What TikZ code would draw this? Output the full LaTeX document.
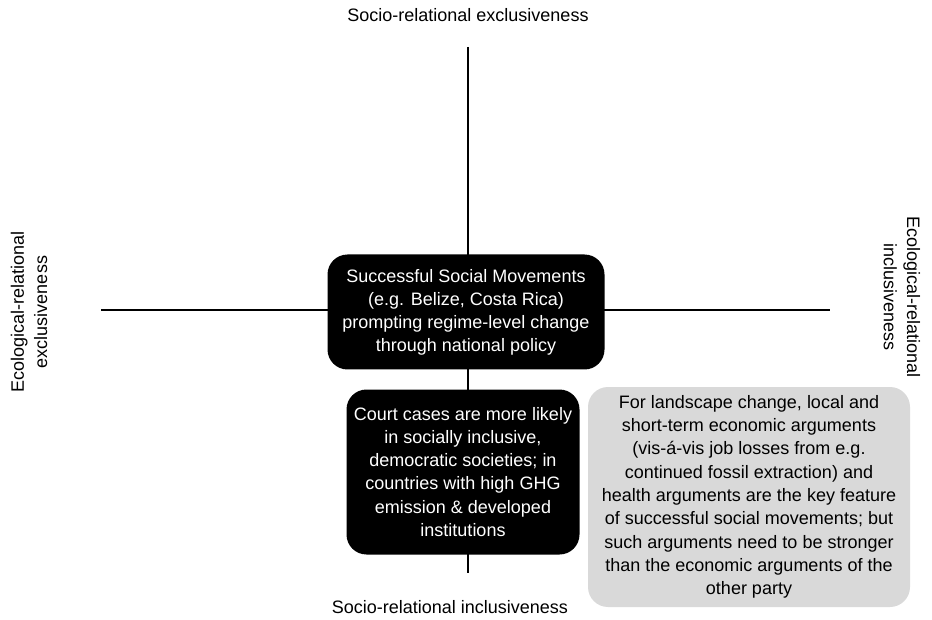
\documentclass[tikz,border=0pt]{standalone}
\usepackage{fontspec}
\setmainfont{Liberation Sans}
\usepackage{tikz}

\begin{document}
\begin{tikzpicture}[x=0.75pt, y=-0.75pt,
  axis/.style = {line width=2pt},
  darkbox/.style = {fill=black, text=white, rounded corners=15pt, align=center,
    inner sep=0pt, font=\fontsize{13.5}{17.3}\selectfont},
  lightbox/.style = {fill=black!15, text=black, rounded corners=15pt, align=center,
    inner sep=0pt, font=\fontsize{13.5}{17.5}\selectfont},
  axislabel/.style = {align=center, font=\fontsize{13.5}{17.5}\selectfont}]
\useasboundingbox (0,0) rectangle (932,620);
% axes
\coordinate (top) at (468,47);
\coordinate (bottom) at (468,573);
\coordinate (left) at (101,310);
\coordinate (right) at (830,310);
\draw[axis] (top) -- (bottom);
\draw[axis] (left) -- (right);
% axis labels
\node[axislabel] (exsoc) at (468,15) {Socio-relational exclusiveness};
\node[axislabel] (insoc) at (450,607) {Socio-relational inclusiveness};
\node[axislabel, rotate=90] (execo) at (29,312) {Ecological-relational\\exclusiveness};
\node[axislabel, rotate=-90] (ineco) at (902,297) {Ecological-relational\\inclusiveness};
% boxes
\node[darkbox, minimum width=277*0.75pt, minimum height=115*0.75pt] (movements) at (466,312)
  {Successful Social Movements\\(e.g. Belize, Costa Rica)\\prompting regime-level change\\through national policy};
\node[darkbox, minimum width=233*0.75pt, minimum height=165*0.75pt] (courts) at (463,472)
  {Court cases are more likely\\in socially inclusive,\\democratic societies; in\\countries with high GHG\\emission \& developed\\institutions};
\node[lightbox, minimum width=322*0.75pt, minimum height=220*0.75pt] (landscape) at (749,497)
  {For landscape change, local and\\short-term economic arguments\\(vis-á-vis job losses from e.g.\\continued fossil extraction) and\\health arguments are the key feature\\of successful social movements; but\\such arguments need to be stronger\\than the economic arguments of the\\other party};
\end{tikzpicture}
\end{document}
